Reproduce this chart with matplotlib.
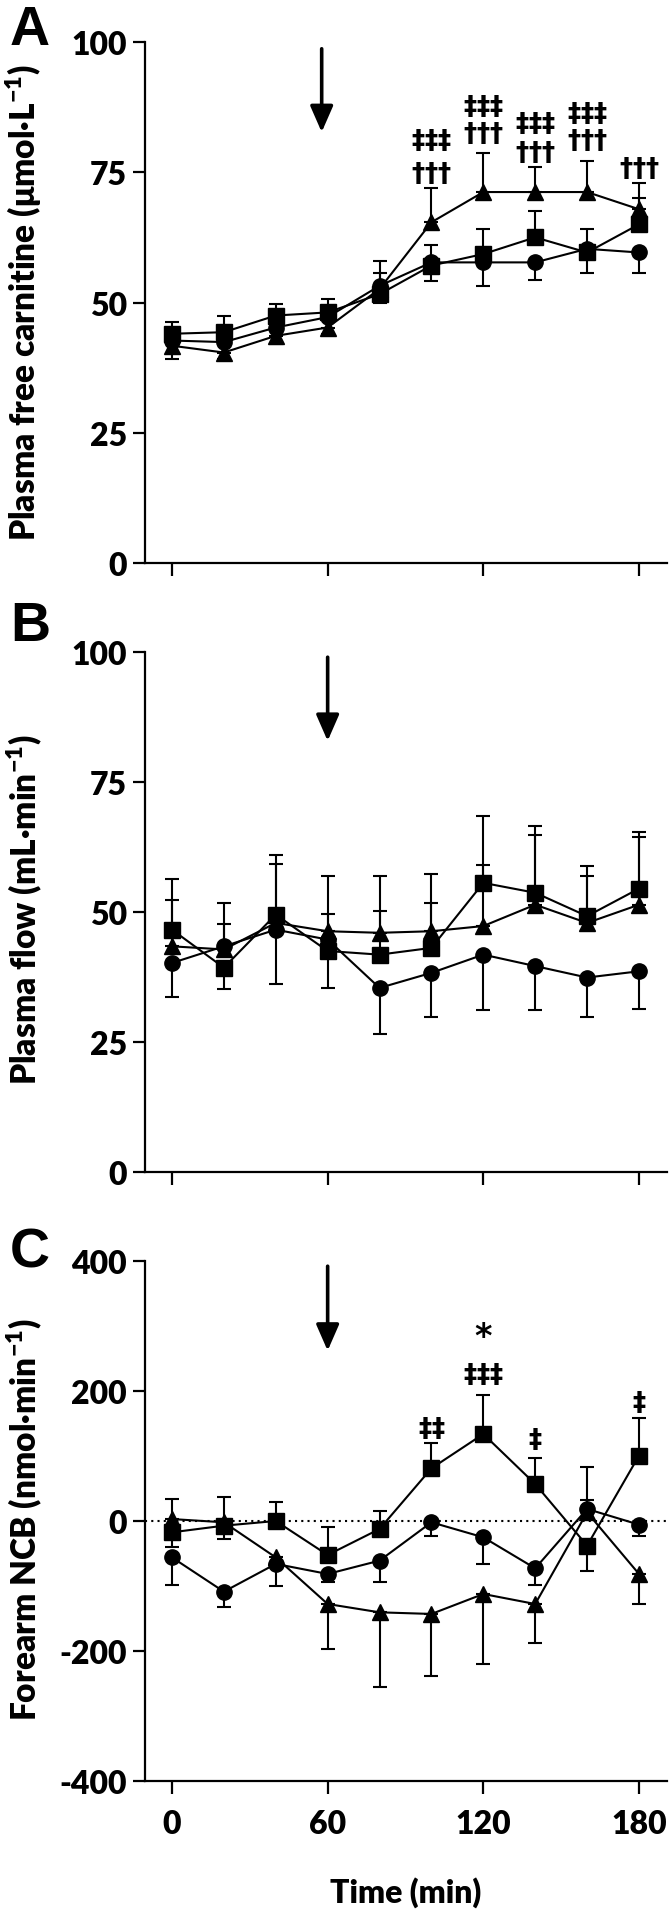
import matplotlib
matplotlib.use('Agg')
import matplotlib.pyplot as plt
import numpy as np

plt.rcParams['font.family'] = ['Lato', 'DejaVu Sans']
plt.rcParams['font.weight'] = 'heavy'
plt.rcParams['axes.unicode_minus'] = False
plt.rcParams['mathtext.fontset'] = 'custom'
plt.rcParams['mathtext.rm'] = 'Lato:heavy'
plt.rcParams['mathtext.it'] = 'Lato:heavy'
plt.rcParams['mathtext.bf'] = 'Lato:heavy'
plt.rcParams['mathtext.default'] = 'regular'

# ---------------- data ----------------
times = [0, 20, 40, 60, 80, 100, 120, 140, 160, 180]

# Panel A: plasma free carnitine (umol/L)
A_circle = [42.7, 42.4, 45.2, 47.2, 53.2, 57.7, 57.7, 57.7, 60.3, 59.6]
A_square = [44.0, 44.3, 47.5, 48.1, 51.6, 57.1, 59.3, 62.5, 59.6, 65.0]
A_triangle = [41.7, 40.4, 43.6, 45.2, 52.6, 65.4, 71.2, 71.2, 71.2, 67.9]
A_circle_up = [0, 0, 0, 0, 4.8, 3.3, 0, 0, 3.9, 0]
A_circle_dn = [3.5, 0, 0, 0, 0, 0, 4.6, 3.3, 0, 4.0]
A_square_up = [2.2, 3.2, 2.2, 2.6, 0, 0, 4.9, 5.1, 0, 5.0]
A_square_dn = [0, 0, 0, 0, 1.6, 2.9, 0, 0, 3.9, 0]
A_triangle_up = [0, 0, 0, 0, 3.1, 6.6, 7.5, 4.8, 5.9, 5.0]
A_triangle_dn = [0, 1.2, 1.6, 1.2, 0, 0, 0, 0, 0, 0]

# Panel B: plasma flow (mL/min)
B_circle = [40.2, 43.4, 46.6, 44.7, 35.4, 38.3, 41.8, 39.6, 37.4, 38.6]
B_square = [46.6, 39.3, 49.5, 42.5, 41.8, 43.1, 55.6, 53.7, 49.2, 54.5]
B_triangle = [43.4, 42.8, 47.9, 46.3, 46.0, 46.3, 47.3, 51.4, 47.9, 51.4]
B_circle_up = [0, 4.2, 0, 5.0, 0, 0, 0, 0, 0, 0]
B_circle_dn = [6.6, 0, 10.5, 0, 8.9, 8.4, 10.6, 8.4, 7.5, 7.3]
B_square_up = [9.8, 0, 11.5, 0, 8.4, 8.7, 12.8, 12.9, 9.7, 10.9]
B_square_dn = [0, 4.2, 0, 7.1, 0, 0, 0, 0, 0, 0]
B_triangle_up = [9.0, 9.0, 11.4, 10.7, 11.0, 11.1, 11.7, 13.5, 9.1, 13.0]
B_triangle_dn = [0, 0, 0, 0, 0, 0, 0, 0, 0, 0]

# Panel C: forearm NCB (nmol/min)
C_circle = [-56, -108.7, -66, -81.5, -61, -2, -25.1, -72.8, 18.5, -5.6]
C_square = [-17.4, -7.2, 0, -52.3, -12.3, 81, 133.8, 56.9, -37.9, 100.5]
C_triangle = [3, -2, -56, -127.7, -140.5, -143, -112.3, -127.7, 13.3, -81.5]
C_circle_up = [0, 0, 0, 0, 0, 0, 0, 0, 64, 0]
C_circle_dn = [42.5, 24, 0, 13, 33, 20.6, 41, 25.7, 0, 17]
C_square_up = [0, 43.6, 29.7, 43, 28, 39, 60.6, 39.5, 0, 57.5]
C_square_dn = [22, 20.5, 0, 0, 0, 0, 0, 0, 38.5, 0]
C_triangle_up = [31, 0, 0, 0, 0, 0, 0, 0, 19.5, 0]
C_triangle_dn = [0, 0, 43.5, 69, 115.5, 95, 108, 60.5, 0, 46]

A_annot = [(100, 81.4, '‡‡‡'), (100, 75.0, '†††'), (120, 87.9, '‡‡‡'), (120, 82.7, '†††'),
           (140, 84.6, '‡‡‡'), (140, 79.1, '†††'), (160, 86.5, '‡‡‡'), (160, 81.4, '†††'),
           (180, 76.0, '†††')]
C_annot = [(100, 144, '‡‡'), (120, 227.7, '‡‡‡'), (120, 288, '*'), (140, 127, '‡'), (180, 185, '‡')]

# ---------------- figure ----------------
W, H = 670, 1915
fig = plt.figure(figsize=(W / 100, H / 100), dpi=100)
TICK_FS = 23


def rect(top, bottom):
    return [145 / W, 1 - bottom / H, (667 - 145) / W, (bottom - top) / H]


def style(ax, ylim, yticks, show_xlabels):
    for s in ('top', 'right'):
        ax.spines[s].set_visible(False)
    for s in ('left', 'bottom'):
        ax.spines[s].set_linewidth(1.6)
    ax.set_xlim(-10.4, 190.8)
    ax.set_ylim(*ylim)
    ax.set_xticks([0, 60, 120, 180])
    ax.set_yticks(yticks)
    ax.tick_params(axis='both', direction='out', length=9, width=1.6, labelsize=TICK_FS)
    ax.tick_params(axis='y', pad=4)
    ax.tick_params(axis='x', pad=11)
    if not show_xlabels:
        ax.set_xticklabels([])
    for lab in ax.get_xticklabels() + ax.get_yticklabels():
        lab.set_fontweight('heavy')


def series(ax, y, up, dn, marker):
    t = np.array(times, float)
    y = np.array(y, float)
    up = np.array(up, float)
    dn = np.array(dn, float)
    m = up > 0
    ax.errorbar(t[m], y[m], yerr=[np.zeros(m.sum()), up[m]], fmt='none', ecolor='k',
                elinewidth=1.5, capsize=5, capthick=1.5, zorder=2)
    m = dn > 0
    ax.errorbar(t[m], y[m], yerr=[dn[m], np.zeros(m.sum())], fmt='none', ecolor='k',
                elinewidth=1.5, capsize=5, capthick=1.5, zorder=2)
    ax.plot(t, y, color='k', lw=1.5, marker=marker, ms=11, mfc='k', mec='k', zorder=3)


def arrow(ax, x, y0, y1):
    ax.annotate('', xy=(x, y1), xytext=(x, y0),
                arrowprops=dict(arrowstyle='-|>,head_length=0.8,head_width=0.35', lw=2.6,
                                color='k', mutation_scale=20, shrinkA=0, shrinkB=0))


def symbols(ax, items):
    for x, y, s in items:
        fs = 24 if s == '*' else 19
        ax.text(x, y, r'$\mathbf{%s}$' % s, ha='center', va='center', fontsize=fs,
                math_fontfamily='dejavusans')


axA = fig.add_axes(rect(43, 564))
style(axA, (0, 100), [0, 25, 50, 75, 100], False)
series(axA, A_circle, A_circle_up, A_circle_dn, 'o')
series(axA, A_square, A_square_up, A_square_dn, 's')
series(axA, A_triangle, A_triangle_up, A_triangle_dn, '^')
arrow(axA, 57.7, 98.7, 82.7)
symbols(axA, A_annot)

axB = fig.add_axes(rect(653, 1173))
style(axB, (0, 100), [0, 25, 50, 75, 100], False)
series(axB, B_circle, B_circle_up, B_circle_dn, 'o')
series(axB, B_square, B_square_up, B_square_dn, 's')
series(axB, B_triangle, B_triangle_up, B_triangle_dn, '^')
arrow(axB, 60, 99, 82.9)

axC = fig.add_axes(rect(1262, 1782))
style(axC, (-400, 400), [-400, -200, 0, 200, 400], True)
axC.axhline(0, color='k', lw=1.5, ls=(0, (1, 2)), zorder=1)
series(axC, C_circle, C_circle_up, C_circle_dn, 'o')
series(axC, C_square, C_square_up, C_square_dn, 's')
series(axC, C_triangle, C_triangle_up, C_triangle_dn, '^')
arrow(axC, 60, 392, 262)
symbols(axC, C_annot)

# y labels
LAB_FS = 24
fig.text(24 / W, 1 - 303 / H, 'Plasma free carnitine (μmol·L$^{-1}$)', rotation=90,
         ha='center', va='center', fontsize=LAB_FS, fontweight='heavy')
fig.text(24 / W, 1 - 910 / H, 'Plasma flow (mL·min$^{-1}$)', rotation=90,
         ha='center', va='center', fontsize=LAB_FS, fontweight='heavy')
fig.text(24 / W, 1 - 1520 / H, 'Forearm NCB (nmol·min$^{-1}$)', rotation=90,
         ha='center', va='center', fontsize=LAB_FS, fontweight='heavy')

fig.text(406 / W, 1 - 1893 / H, 'Time (min)', ha='center', va='center', fontsize=TICK_FS,
         fontweight='heavy')

for lab, yb in (('A', 45), ('B', 641), ('C', 1267)):
    fig.text(10 / W, 1 - yb / H, lab, ha='left', va='baseline', fontsize=40,
             fontweight='bold', family=['Liberation Sans', 'DejaVu Sans'])

fig.savefig('out.png', dpi=100)
